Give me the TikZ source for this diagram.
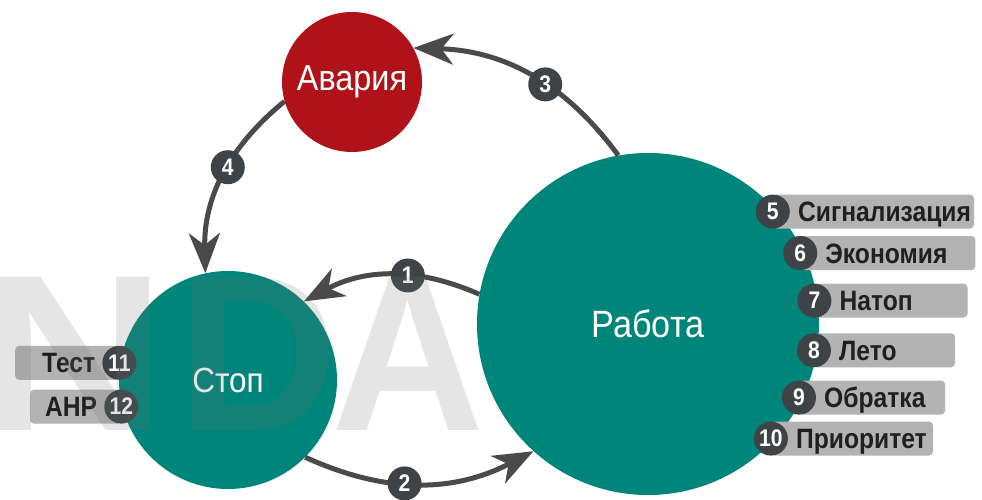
\documentclass[tikz,border=0pt]{standalone}
\usepackage{fontspec}
\setmainfont{Liberation Sans}[FakeStretch=0.9]
\newfontfamily\boldnarrow{Liberation Sans Bold}[FakeStretch=0.88]
\newfontfamily\wmfont{Liberation Sans Bold}
\usepackage{tikz}
\usetikzlibrary{arrows.meta,positioning,calc}
\definecolor{rtteal}{HTML}{00857A}
\definecolor{rtred}{HTML}{B0121A}
\definecolor{dslate}{HTML}{3D4346}
\definecolor{arrgrey}{HTML}{4A4A4A}
\definecolor{barg}{HTML}{B3B3B3}
\definecolor{lbltxt}{HTML}{1F1F1F}
\definecolor{wmgrey}{HTML}{717171}

\begin{document}
\begin{tikzpicture}[x=1pt,y=1pt,
  state/.style={circle,fill=#1,text=white,inner sep=0pt},
  badge/.style={circle,fill=dslate,text=white,minimum size=34pt,inner sep=0pt,font=\boldnarrow\fontsize{24}{24}\selectfont},
  bar/.style={fill=barg,rounded corners=4pt,minimum height=34pt,inner sep=0pt},
  lbl/.style={text=lbltxt,inner sep=0pt,font=\boldnarrow\fontsize{28}{28}\selectfont},
  flow/.style={line width=5pt,draw=arrgrey,-{Stealth[length=40pt,width=31pt,inset=12pt]},bend right=26},
  wm/.style={text=wmgrey,opacity=0.18,inner sep=0pt,anchor=base,font=\wmfont\fontsize{223}{223}\selectfont}]
  \useasboundingbox (0,0) rectangle (982,499);
  \node[state=rtteal,minimum size=342pt,font=\fontsize{38}{38}\selectfont] (rab) at (648,175) {Работа};
  \node[state=rtteal,minimum size=218pt,font=\fontsize{35}{35}\selectfont] (stop) at (228,119) {Стоп};
  \node[state=rtred,minimum size=140pt,font=\fontsize{36}{36}\selectfont] (avar) at (352,417) {Авария};
  % transitions between the states
  \draw[flow] (rab.170) to node[badge,pos=0.4] (t1) {1} (stop.46);
  \draw[flow] (stop.-45) to node[badge,pos=0.43] (t2) {2} (rab.228);
  \draw[flow] (rab.100) to node[badge,pos=0.42] (t3) {3} (avar.29);
  \draw[flow] (avar.196) to node[badge,pos=0.44] (t4) {4} (stop.102);
  % modes of the running state
  \foreach \n/\ang/\w/\txt in {5/42/201/Сигнализация,6/25/175/Экономия,7/8/153/Натоп,8/-9/141/Лето,9/-26/146/Обратка,10/-43/162/Приоритет}{
    \coordinate (p\n) at ($(rab.center)+(\ang:168)$);
    \node[bar,anchor=west,minimum width=\w pt] (bar\n) at (p\n) {};
    \node[lbl,anchor=base west] (lb\n) at ($(p\n)+(25,-10)$) {\txt};
    \node[badge] (n\n) at (p\n) {\n};
  }
  % modes of the stop state
  \foreach \n/\ang/\w/\txt in {11/171/104/Тест,12/194/91/АНР}{
    \coordinate (p\n) at ($(stop.center)+(\ang:110)$);
    \node[bar,anchor=east,minimum width=\w pt] (bar\n) at (p\n) {};
    \node[lbl,anchor=base east] (lb\n) at ($(p\n)+(-24,-10)$) {\txt};
    \node[badge] (n\n) at (p\n) {\n};
  }
  % watermark
  \foreach \ch/\xc/\sx in {N/74/1.15,D/258/1.0,A/408/0.95}
    \node[wm] (wm\ch) at (\xc,69) {\scalebox{\sx}[1]{\ch}};
\end{tikzpicture}
\end{document}
